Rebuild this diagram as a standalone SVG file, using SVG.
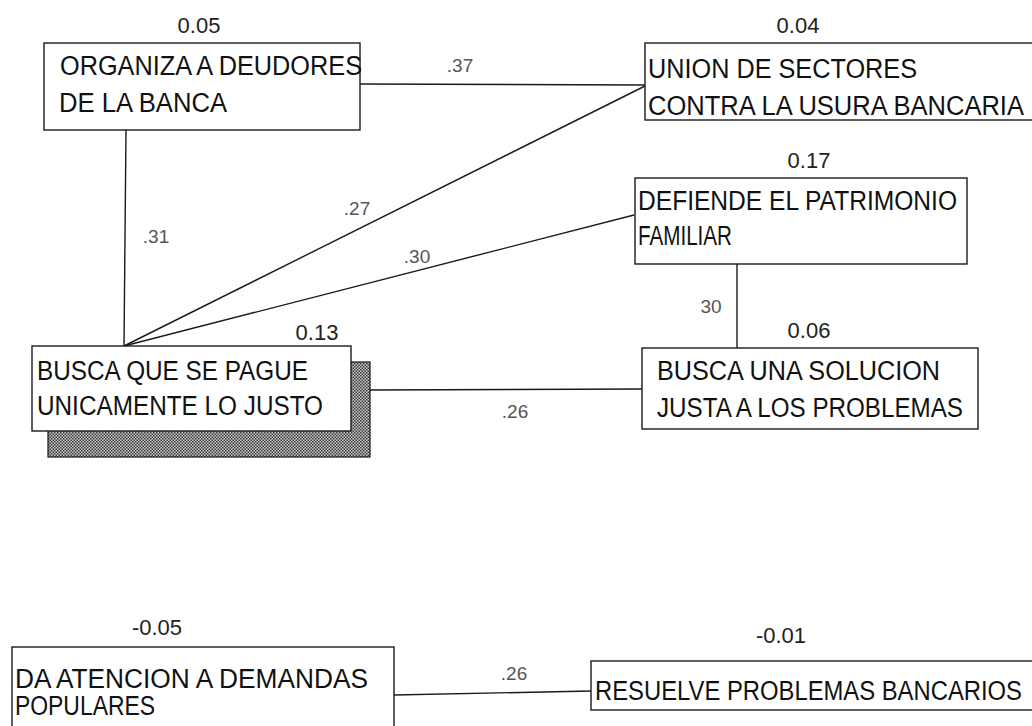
<svg xmlns="http://www.w3.org/2000/svg" width="1032" height="726" viewBox="0 0 1032 726">
<style>
.box{fill:#fff;stroke:#1a1a1a;stroke-width:1.4}
.lbl{font-family:"Liberation Sans",Arial,sans-serif;font-size:27px;fill:#111}
.num{font-family:"Liberation Sans",Arial,sans-serif;font-size:22px;fill:#222;text-anchor:middle}
.w{font-family:"Liberation Sans",Arial,sans-serif;font-size:19px;fill:#555;text-anchor:middle}
.con{stroke:#1a1a1a;stroke-width:1.4;fill:none}
</style>
<defs>
<pattern id="hatch" width="3" height="3" patternUnits="userSpaceOnUse">
<rect width="3" height="3" fill="#cfcfcf"/>
<rect x="0" y="0" width="1.5" height="1.5" fill="#333"/>
<rect x="1.5" y="1.5" width="1.5" height="1.5" fill="#333"/>
</pattern>
</defs>
<rect width="1032" height="726" fill="#fff"/>
<g id="connectors">
<line class="con" x1="360" y1="84" x2="645" y2="85"/>
<line class="con" x1="126" y1="130" x2="124" y2="346"/>
<line class="con" x1="645" y1="86" x2="124" y2="346"/>
<line class="con" x1="634" y1="215" x2="124" y2="346"/>
<line class="con" x1="370" y1="390" x2="642" y2="389"/>
<line class="con" x1="737" y1="264" x2="737" y2="348"/>
<line class="con" x1="394" y1="695" x2="591" y2="691"/>
<text class="w" x="460" y="72">.37</text>
<text class="w" x="156" y="243">.31</text>
<text class="w" x="357" y="215">.27</text>
<text class="w" x="417" y="263">.30</text>
<text class="w" x="711" y="313">30</text>
<text class="w" x="515" y="418">.26</text>
<text class="w" x="514" y="680">.26</text>
</g>
<g id="n-organiza">
<rect class="box" x="44" y="43" width="316" height="87"/>
<text class="num" x="199" y="33">0.05</text>
<text class="lbl" x="60" y="75" textLength="302" lengthAdjust="spacingAndGlyphs">ORGANIZA A DEUDORES</text>
<text class="lbl" x="59" y="112" textLength="168" lengthAdjust="spacingAndGlyphs">DE LA BANCA</text>
</g>
<g id="n-union">
<rect class="box" x="645" y="43" width="400" height="77"/>
<text class="num" x="798" y="33">0.04</text>
<text class="lbl" x="648" y="78" textLength="269" lengthAdjust="spacingAndGlyphs">UNION DE SECTORES</text>
<text class="lbl" x="648" y="115" textLength="376" lengthAdjust="spacingAndGlyphs">CONTRA LA USURA BANCARIA</text>
</g>
<g id="n-defiende">
<rect class="box" x="635" y="178" width="332" height="86"/>
<text class="num" x="809" y="168">0.17</text>
<text class="lbl" x="638" y="210" textLength="319" lengthAdjust="spacingAndGlyphs">DEFIENDE EL PATRIMONIO</text>
<text class="lbl" x="638" y="245" textLength="94" lengthAdjust="spacingAndGlyphs">FAMILIAR</text>
</g>
<g id="n-busca-pague">
<rect x="48" y="362" width="322" height="95" fill="url(#hatch)" stroke="#1a1a1a" stroke-width="1.2"/>
<rect class="box" x="32" y="346" width="319" height="85"/>
<text class="num" x="317" y="340">0.13</text>
<text class="lbl" x="37" y="380" textLength="271" lengthAdjust="spacingAndGlyphs">BUSCA QUE SE PAGUE</text>
<text class="lbl" x="37" y="415" textLength="286" lengthAdjust="spacingAndGlyphs">UNICAMENTE LO JUSTO</text>
</g>
<g id="n-busca-solucion">
<rect class="box" x="642" y="348" width="336" height="81"/>
<text class="num" x="809" y="338">0.06</text>
<text class="lbl" x="657" y="380" textLength="283" lengthAdjust="spacingAndGlyphs">BUSCA UNA SOLUCION</text>
<text class="lbl" x="657" y="417" textLength="306" lengthAdjust="spacingAndGlyphs">JUSTA A LOS PROBLEMAS</text>
</g>
<g id="n-atencion">
<rect class="box" x="12" y="647" width="382" height="100"/>
<text class="num" x="157" y="635">-0.05</text>
<text class="lbl" x="15" y="688" textLength="353" lengthAdjust="spacingAndGlyphs">DA ATENCION A DEMANDAS</text>
<text class="lbl" x="15" y="715" textLength="140" lengthAdjust="spacingAndGlyphs">POPULARES</text>
</g>
<g id="n-resuelve">
<rect class="box" x="591" y="661" width="460" height="49"/>
<text class="num" x="781" y="643">-0.01</text>
<text class="lbl" x="595" y="700" textLength="427" lengthAdjust="spacingAndGlyphs">RESUELVE PROBLEMAS BANCARIOS</text>
</g>
</svg>
